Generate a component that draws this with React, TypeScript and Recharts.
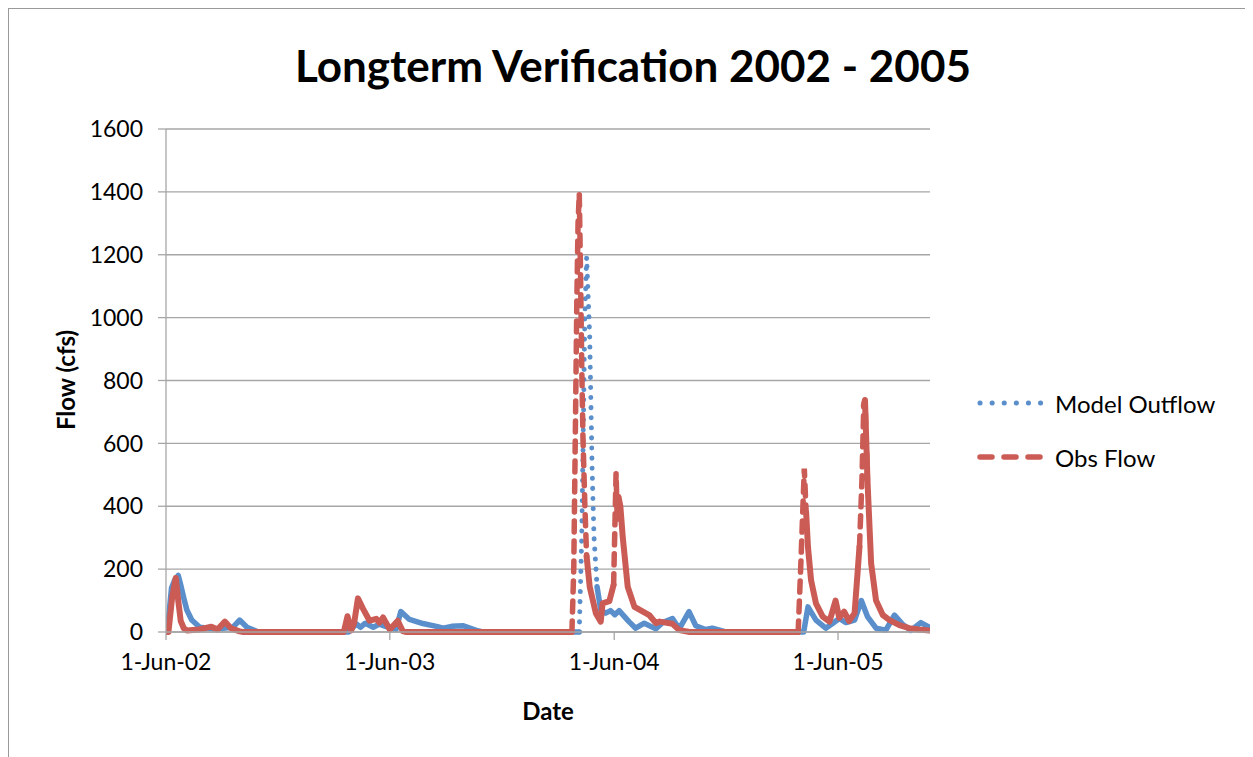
import React from 'react';
import { LineChart, Line, XAxis, YAxis, CartesianGrid } from 'recharts';

const modelDates = [
  '2002-06-01', '2002-06-03', '2002-06-06', '2002-06-10', '2002-06-15', '2002-06-21', '2002-06-25',
  '2002-07-01', '2002-07-05', '2002-07-13', '2002-07-26', '2002-08-10', '2002-08-25', '2002-09-18',
  '2002-09-29', '2002-10-11', '2002-10-27', '2002-11-05',
  '2003-03-26', '2003-04-02', '2003-04-08', '2003-04-14', '2003-04-22', '2003-05-05', '2003-05-15',
  '2003-05-25', '2003-06-11', '2003-06-19', '2003-07-03', '2003-07-25', '2003-08-16', '2003-08-27',
  '2003-09-10', '2003-09-29', '2003-10-20', '2003-10-31',
  '2004-04-05', '2004-04-09', '2004-04-12', '2004-04-14', '2004-04-17', '2004-04-22', '2004-04-24',
  '2004-04-26', '2004-04-29', '2004-05-04', '2004-05-10', '2004-05-18', '2004-05-26', '2004-06-02',
  '2004-06-09', '2004-06-25', '2004-07-06', '2004-07-20', '2004-08-08', '2004-08-19', '2004-09-04',
  '2004-09-15', '2004-10-01', '2004-10-12', '2004-10-28', '2004-11-08', '2004-11-30',
  '2005-04-06', '2005-04-13', '2005-04-26', '2005-05-12', '2005-05-23', '2005-06-03', '2005-06-14',
  '2005-06-28', '2005-07-09', '2005-07-19', '2005-08-02', '2005-08-18', '2005-09-01', '2005-09-14',
  '2005-09-28', '2005-10-14', '2005-10-28',
];
const modelFlow = [
  0, 0, 60, 140, 165, 180, 150,
  100, 70, 38, 15, 12, 10, 15,
  38, 15, 2, 0,
  0, 15, 25, 15, 28, 15, 25,
  18, 8, 65, 40, 27, 18, 12,
  18, 20, 5, 0,
  0, 300, 700, 1000, 1192, 940, 727,
  515, 303, 144, 70, 60, 68, 55,
  68, 33, 12, 28, 10, 30, 43,
  10, 65, 20, 8, 12, 0,
  0, 80, 38, 12, 27, 43, 30,
  38, 100, 49, 12, 6, 54, 25,
  5, 30, 15,
];

const obsDates = [
  '2002-06-01', '2002-06-05', '2002-06-11', '2002-06-17', '2002-06-21', '2002-06-25', '2002-06-30',
  '2002-07-05', '2002-07-25', '2002-08-14', '2002-08-24', '2002-09-05', '2002-09-15', '2002-09-29',
  '2002-10-05',
  '2003-03-18', '2003-03-24', '2003-03-30', '2003-04-04', '2003-04-10', '2003-04-18', '2003-04-29',
  '2003-05-10', '2003-05-15', '2003-05-21', '2003-06-01', '2003-06-14', '2003-06-22', '2003-06-27',
  '2004-03-24', '2004-03-27', '2004-03-30', '2004-04-01', '2004-04-03', '2004-04-05', '2004-04-07',
  '2004-04-09', '2004-04-11', '2004-04-14', '2004-04-17', '2004-04-22', '2004-05-02', '2004-05-10',
  '2004-05-13', '2004-05-24', '2004-05-31', '2004-06-04', '2004-06-06', '2004-06-08', '2004-06-11',
  '2004-06-15', '2004-06-23', '2004-07-04', '2004-07-28', '2004-08-08', '2004-08-14', '2004-09-04',
  '2004-09-15', '2004-10-02',
  '2005-03-28', '2005-04-02', '2005-04-07', '2005-04-10', '2005-04-13', '2005-04-18', '2005-04-26',
  '2005-05-07', '2005-05-18', '2005-05-28', '2005-06-03', '2005-06-11', '2005-06-19', '2005-06-28',
  '2005-07-06', '2005-07-10', '2005-07-13', '2005-07-15', '2005-07-19', '2005-07-25', '2005-08-02',
  '2005-08-13', '2005-08-24', '2005-09-09', '2005-09-25', '2005-10-11', '2005-10-28',
];
const obsFlow = [
  0, 0, 110, 172, 100, 35, 12,
  5, 8, 17, 8, 33, 12, 2,
  0,
  0, 50, 5, 30, 107, 75, 36,
  42, 30, 46, 8, 36, 3, 0,
  0, 200, 700, 1050, 1300, 1395, 1150,
  850, 620, 410, 240, 144, 60, 33,
  91, 98, 150, 505, 360, 430, 400,
  300, 144, 80, 54, 28, 33, 26,
  6, 0,
  0, 250, 520, 380, 270, 165, 91,
  49, 33, 100, 45, 65, 35, 60,
  271, 483, 720, 738, 483, 218, 100,
  54, 38, 22, 12, 8, 5,
];

const xTickDates = ['2002-06-01', '2003-06-01', '2004-06-01', '2005-06-01'];
const xTickLabels = ['1-Jun-02', '1-Jun-03', '1-Jun-04', '1-Jun-05'];
const xDomainDates = ['2002-06-01', '2005-10-29'];
const yTicks = [0, 200, 400, 600, 800, 1000, 1200, 1400, 1600];
const seriesNames = ['Model Outflow', 'Obs Flow'];
const titleText = 'Longterm Verification 2002 - 2005';
const yTitle = 'Flow (cfs)';
const xTitle = 'Date';

const BLUE = '#5A8FCB';
const RED = '#CB5B55';
const GRID = '#A6A6A6';
const DAY = 86400000;

const toDay = (s: string) => {
  const [y, m, d] = s.split('-').map(Number);
  return Date.UTC(y, m - 1, d) / DAY;
};

// Excel restarts the dash pattern on every segment, so gentle stretches look solid
// and only steep stretches show the dash pattern. Split each series accordingly.
function splitSeries(dates: string[], vals: number[], threshold: number) {
  const t = dates.map(toDay);
  const steep = t.slice(0, -1).map((ti, i) => Math.abs(vals[i + 1] - vals[i]) / (t[i + 1] - ti) > threshold);
  return t.map((ti, i) => {
    const before = i > 0 ? steep[i - 1] : null;
    const after = i < steep.length ? steep[i] : null;
    const isSteep = before === true || after === true;
    const isFlat = before === false || after === false;
    return { t: ti, flat: isFlat ? vals[i] : null, steep: isSteep ? vals[i] : null };
  });
}

const modelData = splitSeries(modelDates, modelFlow, 25);
const obsData = splitSeries(obsDates, obsFlow, 45);
const xTicks = xTickDates.map(toDay);
const xDomain = xDomainDates.map(toDay);

const tickFmt = (v: number) => {
  const i = xTicks.indexOf(v);
  return i >= 0 ? xTickLabels[i] : '';
};

const W = 1245;
const H = 749;

export default function App() {
  return (
    <div style={{ position: 'relative', width: W, height: H, fontFamily: 'Lato, sans-serif', background: '#fff' }}>
      <LineChart width={W} height={H} margin={{ top: 121, right: 323, bottom: 85, left: 0 }}>
        <CartesianGrid vertical={false} stroke={GRID} strokeWidth={1.3} />
        <XAxis
          type="number"
          dataKey="t"
          domain={xDomain}
          allowDataOverflow
          ticks={xTicks}
          tickFormatter={tickFmt}
          stroke={GRID}
          strokeWidth={1.3}
          tickSize={8}
          tickMargin={14}
          height={40}
          tick={{ fill: '#000', fontSize: 23 }}
        />
        <YAxis
          type="number"
          domain={[0, 1600]}
          ticks={yTicks}
          width={158}
          stroke={GRID}
          strokeWidth={1.3}
          tickSize={8}
          tickMargin={15}
          tick={{ fill: '#000', fontSize: 23 }}
        />
        <Line data={modelData} dataKey="flat" name={seriesNames[0]} stroke={BLUE} strokeWidth={5.5} strokeLinejoin="round" strokeLinecap="round" dot={false} isAnimationActive={false} />
        <Line data={modelData} dataKey="steep" name={seriesNames[0]} stroke={BLUE} strokeWidth={5} strokeDasharray="0.1 10" strokeLinecap="round" dot={false} isAnimationActive={false} />
        <Line data={obsData} dataKey="flat" name={seriesNames[1]} stroke={RED} strokeWidth={6} strokeLinejoin="round" strokeLinecap="round" dot={false} isAnimationActive={false} />
        <Line data={obsData} dataKey="steep" name={seriesNames[1]} stroke={RED} strokeWidth={5.5} strokeDasharray="11 9" strokeLinecap="round" dot={false} isAnimationActive={false} />
      </LineChart>
      <svg width={W} height={H} style={{ position: 'absolute', left: 0, top: 0, pointerEvents: 'none' }}>
        <line x1={0} x2={W} y1={0} y2={0} stroke="#9a9a9a" strokeWidth={2} />
        <line x1={0} x2={0} y1={0} y2={H} stroke="#9a9a9a" strokeWidth={2} />
        <text x={625} y={74} textAnchor="middle" fontSize={44} fontWeight="bold" fill="#000">{titleText}</text>
        <text x={57} y={372} textAnchor="middle" dominantBaseline="central" fontSize={24} fontWeight="bold" fill="#000" transform="rotate(-90 57 372)">{yTitle}</text>
        <text x={540} y={702} textAnchor="middle" dominantBaseline="central" fontSize={24} fontWeight="bold" fill="#000">{xTitle}</text>
        <line x1={972} x2={1034} y1={395} y2={395} stroke={BLUE} strokeWidth={5} strokeDasharray="0.1 12" strokeLinecap="round" />
        <text x={1047} y={395} dominantBaseline="central" fontSize={24} fill="#000">{seriesNames[0]}</text>
        <line x1={972} x2={1034} y1={449} y2={449} stroke={RED} strokeWidth={5.5} strokeDasharray="12 12" strokeLinecap="round" />
        <text x={1047} y={449} dominantBaseline="central" fontSize={24} fill="#000">{seriesNames[1]}</text>
      </svg>
    </div>
  );
}
